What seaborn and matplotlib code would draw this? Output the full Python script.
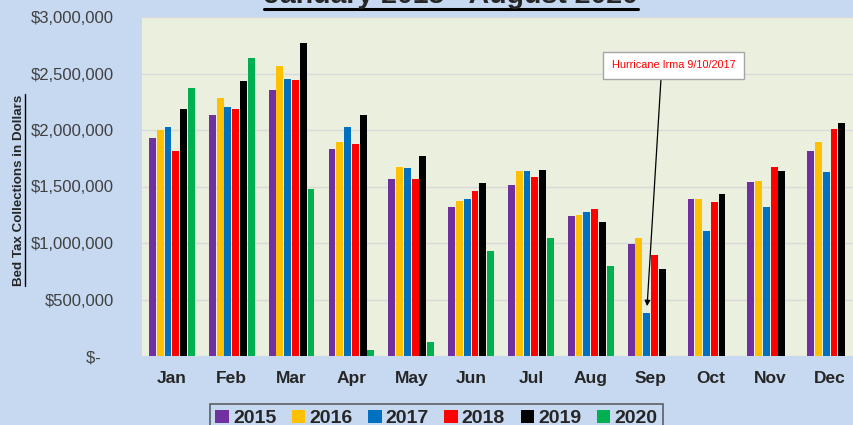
import pandas as pd
import seaborn as sns
import matplotlib.pyplot as plt
import numpy as np
from matplotlib.lines import Line2D

months = ['Jan', 'Feb', 'Mar', 'Apr', 'May', 'Jun', 'Jul', 'Aug', 'Sep', 'Oct', 'Nov', 'Dec']
years = ['2015', '2016', '2017', '2018', '2019', '2020']
colors = ['#7030A0', '#FFC000', '#0070C0', '#FF0000', '#000000', '#00B050']

# values in millions of dollars
tax_2015 = [1.93, 2.13, 2.35, 1.83, 1.57, 1.32, 1.51, 1.24, 0.99, 1.39, 1.54, 1.81]
tax_2016 = [2.00, 2.28, 2.57, 1.89, 1.67, 1.37, 1.64, 1.25, 1.04, 1.39, 1.55, 1.89]
tax_2017 = [2.03, 2.20, 2.45, 2.03, 1.66, 1.39, 1.64, 1.27, 0.38, 1.11, 1.32, 1.63]
tax_2018 = [1.81, 2.19, 2.44, 1.88, 1.57, 1.46, 1.58, 1.30, 0.89, 1.36, 1.67, 2.01]
tax_2019 = [2.19, 2.43, 2.77, 2.13, 1.77, 1.53, 1.65, 1.19, 0.77, 1.43, 1.64, 2.06]
tax_2020 = [2.37, 2.64, 1.48, 0.055, 0.12, 0.93, 1.04, 0.80, np.nan, np.nan, np.nan, np.nan]

frames = []
for yr, vals in zip(years, [tax_2015, tax_2016, tax_2017, tax_2018, tax_2019, tax_2020]):
    frames.append(pd.DataFrame({'month': months, 'year': yr, 'tax': np.array(vals) * 1e6}))
df = pd.concat(frames, ignore_index=True)

sns.set_style('white')
plt.rcParams['font.family'] = ['Liberation Sans', 'DejaVu Sans']

fig = plt.figure(figsize=(8.54, 4.25), dpi=100, facecolor='#C6D9F0')
ax = fig.add_axes([142 / 854, 1 - 356 / 425, 712 / 854, 339 / 425])
ax.set_facecolor('#EBF0DE')

sns.barplot(data=df, x='month', y='tax', hue='year', palette=colors, saturation=1,
            width=0.78, gap=0.12, edgecolor='none', ax=ax, legend=True)

ax.set_xlim(-0.5, 11.4)
ax.set_ylim(0, 3000000)
yt = np.arange(0, 3000001, 500000)
ax.set_yticks(yt)
ax.set_yticklabels(['$-   ' if v == 0 else f'${v:,.0f}' for v in yt], fontsize=12, color='#404040')
ax.set_xticks(range(12))
ax.set_xticklabels(months, fontsize=12.5, fontweight='bold')
ax.tick_params(axis='x', length=0, pad=11)
ax.tick_params(axis='y', length=0, pad=20)
ax.grid(axis='y', color='#D9D9D9', linewidth=1)
ax.set_axisbelow(True)
for s in ax.spines.values():
    s.set_visible(False)
ax.set_xlabel('')
ax.set_ylabel('Bed Tax Collections in Dollars', fontsize=9.6, fontweight='bold')
ax.yaxis.set_label_coords(-0.165, 0.49)

title = fig.text(0.528, 0.993, 'January 2015 - August 2020', ha='center', va='baseline',
                 fontsize=20.5, fontweight='bold')

# Hurricane Irma note
ax.annotate('Hurricane Irma 9/10/2017', xy=(8 - 0.065, 380000), xytext=(0.747, 0.857),
            textcoords='axes fraction', ha='center', va='center', color='#FF0000', fontsize=7.8,
            bbox=dict(boxstyle='square,pad=0.8', fc='white', ec='#A6A6A6', lw=1),
            arrowprops=dict(arrowstyle='-|>', color='black', lw=0.9, shrinkA=0, shrinkB=5,
                            mutation_scale=8, relpos=(0.4, 0)))

handles, labels = ax.get_legend_handles_labels()
ax.legend_.remove()
leg = fig.legend(handles, labels, loc='upper center', bbox_to_anchor=(0.511, 0.073), ncol=6,
                 frameon=True, fancybox=False, edgecolor='#404040', facecolor='#C6D9F0',
                 prop={'weight': 'bold', 'size': 14}, handlelength=0.7, handleheight=0.7,
                 handletextpad=0.2, columnspacing=0.8, borderpad=0.3)
leg.get_frame().set_linewidth(1.2)

# underline the title and the y label
fig.canvas.draw()
inv = fig.transFigure.inverted()
bb = title.get_window_extent()
(x0, y0), (x1, _) = inv.transform([[bb.x0, bb.y0], [bb.x1, bb.y0]])
fig.add_artist(Line2D([x0, x1], [y0 - 0.001, y0 - 0.001], color='black', lw=2.2))
bb = ax.yaxis.label.get_window_extent()
(lx0, ly0), (_, ly1) = inv.transform([[bb.x1, bb.y0], [bb.x1, bb.y1]])
fig.add_artist(Line2D([lx0 + 0.001, lx0 + 0.001], [ly0, ly1], color='black', lw=1))

fig.savefig('out.png', dpi=100, facecolor=fig.get_facecolor())
